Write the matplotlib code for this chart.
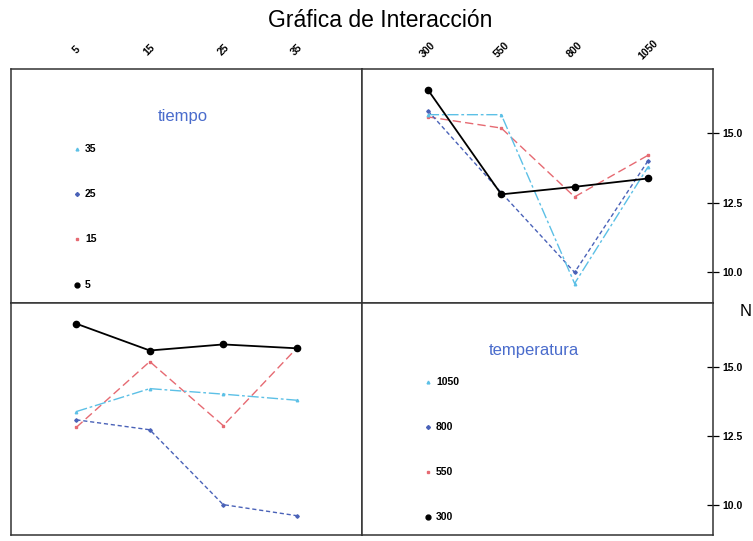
import matplotlib
matplotlib.use("Agg")
import matplotlib.pyplot as plt
from matplotlib.ticker import FixedLocator

plt.rcParams['font.family'] = ['Liberation Sans', 'DejaVu Sans']

# Factor levels
tiempo = [5, 15, 25, 35]
temperatura = [300, 550, 800, 1050]

# Mean response N for each temperatura (rows) across tiempo (columns)
n_t300 = [16.55, 15.58, 15.80, 15.66]
n_t550 = [12.80, 15.18, 12.86, 15.66]
n_t800 = [13.07, 12.71, 10.00, 9.60]
n_t1050 = [13.37, 14.20, 14.00, 13.78]

y_ticks = [10.0, 12.5, 15.0]
y_tick_labels = ["10.0", "12.5", "15.0"]

title = "Gráfica de Interacción"
response_label = "N"

# Line styles per level (first level solid black, then red, dark blue, light blue)
styles = [
    dict(color="black", ls="-", lw=1.3, marker="o", ms=4.5),
    dict(color="#e66a72", ls=(0, (6, 3)), lw=1.0, marker="s", ms=1.8),
    dict(color="#4a62b8", ls=(0, (3, 2)), lw=1.0, marker="D", ms=1.8),
    dict(color="#5cc0e6", ls=(0, (8, 2, 2, 2)), lw=1.0, marker="^", ms=1.8),
]

rows = [n_t300, n_t550, n_t800, n_t1050]
# transpose: tiempo level -> values across temperatura
cols = [[r[j] for r in rows] for j in range(len(tiempo))]

fig = plt.figure(figsize=(7.53, 5.41), dpi=100)
x0, xm, x1 = 11 / 753, 362 / 753, 713 / 753
yt, ym, yb = 1 - 69 / 541, 1 - 303 / 541, 1 - 535 / 541
w = xm - x0
h = yt - ym

ax_tl = fig.add_axes([x0, ym, w, h])
ax_tr = fig.add_axes([xm, ym, x1 - xm, h])
ax_bl = fig.add_axes([x0, yb, w, ym - yb])
ax_br = fig.add_axes([xm, yb, x1 - xm, ym - yb])

ylim = (8.9, 17.3)
for ax in (ax_tl, ax_tr, ax_bl, ax_br):
    for s in ax.spines.values():
        s.set_linewidth(1.1)
        s.set_color("#333333")
    ax.set_ylim(*ylim)
    ax.tick_params(left=False, bottom=False, labelleft=False, labelbottom=False)

# Top-right: N vs temperatura, one line per tiempo
for vals, st in zip(cols, styles):
    ax_tr.plot(temperatura, vals, **st, zorder=3 if st["color"] == "black" else 2)
ax_tr.set_xlim(75, 1272)

# Bottom-left: N vs tiempo, one line per temperatura
for vals, st in zip(rows, styles):
    ax_bl.plot(tiempo, vals, **st, zorder=3 if st["color"] == "black" else 2)
ax_bl.set_xlim(-3.9, 43.9)
ax_tl.set_xlim(-3.9, 43.9)
ax_br.set_xlim(75, 1272)

# Top axis labels: tiempo over left column, temperatura over right column
for ax, lv in ((ax_tl, tiempo), (ax_tr, temperatura)):
    ax.xaxis.set_ticks_position("top")
    ax.xaxis.set_major_locator(FixedLocator(lv))
    ax.set_xticklabels([str(v) for v in lv])
    ax.tick_params(axis="x", top=True, labeltop=True, length=0, pad=14,
                   labelsize=7.5)
    for lab in ax.get_xticklabels():
        lab.set_rotation(45)
        lab.set_ha("center")
        lab.set_va("center")
        lab.set_fontweight("bold")

# Right-hand N scale
for ax in (ax_tr, ax_br):
    ax.yaxis.set_ticks_position("right")
    ax.yaxis.set_major_locator(FixedLocator(y_ticks))
    ax.set_yticklabels(y_tick_labels)
    ax.tick_params(axis="y", right=True, labelright=True, direction="inout",
                   length=9, width=0.9, pad=2, labelsize=7.5)
    for lab in ax.get_yticklabels():
        lab.set_fontweight("bold")

# Level keys
def level_key(ax, name, levels):
    ax.text(0.49, 0.795, name, transform=ax.transAxes, ha="center",
            va="center", fontsize=12, color="#4a6ccc")
    ys = [0.078, 0.272, 0.466, 0.659]
    for yy, lv, st in zip(ys, levels, styles):
        ax.plot([0.188], [yy], transform=ax.transAxes, ls="none",
                marker=st["marker"], color=st["color"],
                ms=3.5 if st["color"] == "black" else 2.0)
        ax.text(0.211, yy, str(lv), transform=ax.transAxes, ha="left",
                va="center", fontsize=7.5, fontweight="bold")

level_key(ax_tl, "tiempo", tiempo)
level_key(ax_br, "temperatura", temperatura)

fig.text(0.505, 0.963, title, ha="center", va="center", fontsize=16.5)
fig.text(746 / 753, 1 - 312 / 541, response_label, ha="center", va="center",
         fontsize=12)

fig.savefig("out.png", dpi=100)
